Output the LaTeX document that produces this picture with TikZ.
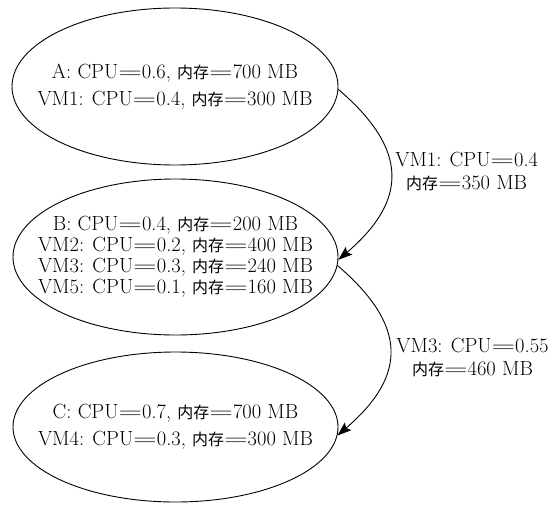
\documentclass[tikz,border=0pt]{standalone}
\usepackage{fontspec}
\usepackage{graphicx}
\newfontfamily\cjk{Noto Sans CJK SC}[Scale=0.78]
\usetikzlibrary{shapes.geometric,arrows.meta}
% wide equals sign as used in Chinese typesetting
\newcommand\eqs{\scalebox{1.6}[1]{=}}
\newcommand\mem{{\cjk 内存}}
\begin{document}
\begin{tikzpicture}[x=1pt,y=1pt,
  host/.style={draw, ellipse, line width=0.9pt, inner xsep=-50pt, inner ysep=0pt,
    align=center},
  move/.style={line width=0.9pt, -{Stealth[length=14pt,width=10pt,inset=2.5pt]}},
  elabel/.style={anchor=west, inner sep=0pt, align=center,
    font=\fontsize{20.5}{23}\selectfont}]
\useasboundingbox (0,0) rectangle (556,-506);

\node[host, minimum width=326pt, minimum height=157pt,
  font=\fontsize{20.5}{27}\selectfont] (A) at (175,-86.5)
  {A: CPU\eqs0.6, \mem\eqs700 MB\\
   VM1: CPU\eqs0.4, \mem\eqs300 MB};

\node[host, minimum width=325pt, minimum height=156pt,
  font=\fontsize{20.5}{21}\selectfont] (B) at (175.5,-257)
  {B: CPU\eqs0.4, \mem\eqs200 MB\\
   VM2: CPU\eqs0.2, \mem\eqs400 MB\\
   VM3: CPU\eqs0.3, \mem\eqs240 MB\\
   VM5: CPU\eqs0.1, \mem\eqs160 MB};

\node[host, minimum width=325pt, minimum height=150pt,
  font=\fontsize{20.5}{27}\selectfont] (C) at (175.5,-427)
  {C: CPU\eqs0.7, \mem\eqs700 MB\\
   VM4: CPU\eqs0.3, \mem\eqs300 MB};

\draw[move] (A.-1) .. controls +(70,-60) and +(70,60) ..
  node[elabel, pos=0.5, xshift=4pt, yshift=3.5pt] (m1)
  {VM1: CPU\eqs0.4\\ \mem\eqs350 MB} (B.-1);

\draw[move] (B.-3.5) .. controls +(70,-60) and +(70,60) ..
  node[elabel, pos=0.5, xshift=6pt, yshift=-7pt] (m2)
  {VM3: CPU\eqs0.55\\ \mem\eqs460 MB} (C.-3.5);
\end{tikzpicture}
\end{document}
